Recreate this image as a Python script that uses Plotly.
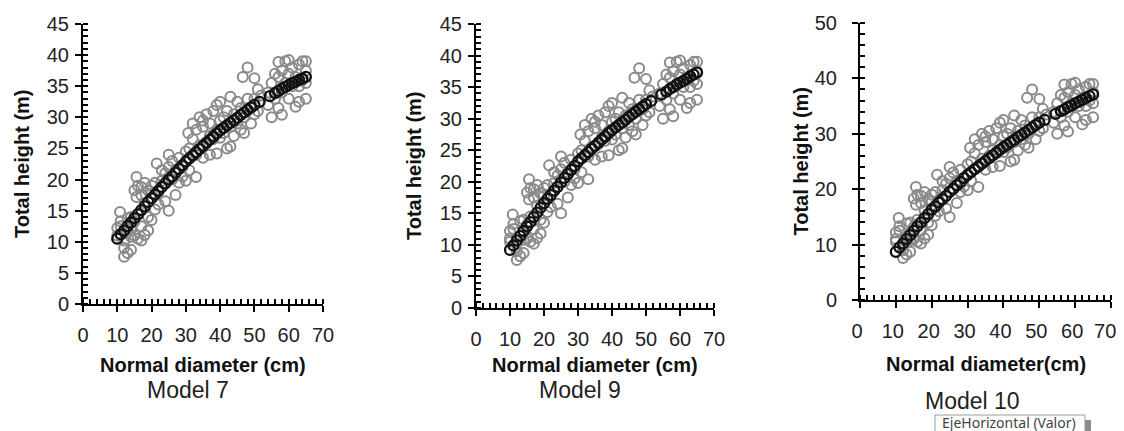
import plotly.graph_objects as go

# ---------------- data ----------------
obs_d = [10, 10, 10, 10.8, 11, 11, 12, 12, 12, 13, 13, 13, 14, 14, 14, 14,
         15, 15, 15, 15.6, 15.6, 16, 16, 16, 17, 17, 17, 17, 18, 18, 18,
         19, 19, 19, 20, 20, 20, 21, 21, 21.5, 22, 22, 23, 23, 24, 24,
         25, 25, 25, 26, 26, 27, 27, 28, 28, 29, 29, 30, 30, 30.7, 31, 31,
         32, 32, 33, 33, 33, 34, 34, 35, 35, 35, 36, 36, 37, 37, 37, 38, 38,
         39, 39, 39, 40, 40, 40, 41, 41, 42, 42, 43, 43, 43, 44, 44, 45, 45,
         46, 46, 46.6, 47, 47, 48, 48, 49, 49, 50, 50, 50, 51, 51, 52, 54, 54,
         55, 55, 56, 56, 57, 57, 57, 58, 58, 58, 59, 59, 60, 60, 60, 61, 61,
         62, 62, 63, 63, 63, 64, 64, 65, 65, 65, 65]
obs_h = [11.0, 12.2, 10.5, 14.8, 12.5, 13.3, 7.6, 10.2, 9.0, 8.2, 11.5, 13.8, 8.7, 12.0, 10.8, 14.0,
         18.3, 11.0, 13.2, 20.4, 17.2, 19.0, 10.5, 14.5, 17.5, 12.5, 18.8, 10.2, 19.5, 11.1, 16.2,
         18.2, 11.8, 14.0, 19.0, 13.5, 17.8, 15.2, 19.5, 22.6, 18.0, 16.0, 21.5, 19.8, 16.5, 21.0,
         24.0, 22.0, 15.0, 20.0, 23.0, 17.5, 21.5, 19.5, 23.5, 22.0, 20.5, 24.5, 19.8, 27.5, 25.0, 21.5,
         29.0, 26.5, 20.4, 28.0, 24.0, 30.0, 25.5, 28.5, 23.5, 29.5, 30.5, 26.0, 27.0, 29.0, 24.0, 26.5, 31.0,
         24.2, 28.0, 32.0, 32.5, 26.7, 29.5, 30.0, 27.5, 31.0, 25.0, 25.3, 33.3, 28.5, 30.5, 27.0, 29.0, 32.5,
         31.5, 28.0, 36.5, 30.0, 27.5, 38.0, 33.0, 29.0, 31.5, 36.3, 33.0, 30.5, 34.5, 31.0, 33.5, 34.0, 32.0,
         30.0, 35.5, 37.0, 33.0, 38.9, 36.5, 31.5, 30.4, 37.5, 34.0, 39.0, 35.5, 39.2, 33.0, 37.0, 38.0, 35.0,
         31.7, 36.5, 38.5, 32.5, 35.0, 36.0, 39.0, 39.0, 33.0, 35.5, 37.5]

fit_d = [10, 11, 12, 13, 14, 15, 16, 17, 18, 19, 20,
         21, 22, 23, 24, 25, 26, 27, 28, 29, 30,
         31, 32, 33, 34, 35, 36, 37, 38, 39, 40,
         41, 42, 43, 44, 45, 46, 47, 48, 49, 50,
         51.5, 54.5, 56, 57, 58, 59, 60, 61, 62, 63, 64, 65]
fit_m7 = [10.5, 11.2, 11.8, 12.5, 13.1, 13.8, 14.4, 15.1, 15.7, 16.4, 17.0,
          17.6, 18.2, 18.8, 19.4, 20.0, 20.5, 21.1, 21.7, 22.3, 22.9,
          23.4, 23.9, 24.4, 24.9, 25.4, 25.9, 26.4, 26.9, 27.4, 27.9,
          28.3, 28.7, 29.1, 29.5, 29.9, 30.4, 30.8, 31.2, 31.6, 32.0,
          32.5, 33.4, 33.9, 34.2, 34.6, 34.9, 35.2, 35.5, 35.7, 36.0, 36.2, 36.5]
fit_m9 = [9.2, 9.9, 10.7, 11.4, 12.2, 12.9, 13.6, 14.4, 15.1, 15.9, 16.6,
          17.3, 17.9, 18.6, 19.2, 19.9, 20.6, 21.2, 21.9, 22.5, 23.2,
          23.7, 24.2, 24.7, 25.2, 25.7, 26.2, 26.7, 27.2, 27.7, 28.2,
          28.6, 29.0, 29.4, 29.8, 30.3, 30.7, 31.1, 31.5, 31.9, 32.3,
          32.8, 33.8, 34.3, 34.7, 35.0, 35.4, 35.7, 36.0, 36.3, 36.7, 37.0, 37.3]
fit_m10 = [8.7, 9.5, 10.2, 11.0, 11.7, 12.5, 13.3, 14.0, 14.8, 15.5, 16.3,
           16.9, 17.6, 18.2, 18.8, 19.5, 20.1, 20.7, 21.3, 22.0, 22.6,
           23.1, 23.6, 24.1, 24.6, 25.1, 25.6, 26.1, 26.6, 27.1, 27.6,
           28.0, 28.5, 28.9, 29.4, 29.8, 30.2, 30.7, 31.1, 31.6, 32.0,
           32.5, 33.6, 34.1, 34.4, 34.8, 35.1, 35.5, 35.8, 36.1, 36.5, 36.8, 37.1]

model_names = ["Model 7", "Model 9", "Model 10"]
x_titles = ["Normal diameter (cm)", "Normal diameter (cm)", "Normal diameter(cm)"]
y_title = "Total height (m)"
y_max = [45, 45, 50]
y_dtick = [5, 5, 10]
y_minor = [1, 1, 2]
x_max = 70
x_tickvals = [0, 10, 20, 30, 40, 50, 60, 70]
x_ticktext = ["0", "10", "20", "30", "40", "50", "60", "70"]
x_minor = 2

# ---------------- layout geometry (window pixels) ----------------
OFF = 8                      # default page body margin in the browser
W, H = 1124 - OFF, 431 - OFF  # figure size so it fills the window exactly
px_x = [(83, 323), (476, 714), (860, 1111)]
px_y = [(24, 304), (24, 308), (23, 300)]
model_cx = [188, 580, 972]
model_cy = [390, 390, 401]
xt_cy = [365, 365, 364]
yt_cx = [22, 414, 800]


def fx(p):
    return (p - OFF) / W


def fy(p):
    return 1 - (p - OFF) / H


fits = [fit_m7, fit_m9, fit_m10]

fig = go.Figure()
tick_font = dict(family="Liberation Sans, Arial", size=20, color="#222222")

annotations = []
for i in range(3):
    xa = "x" if i == 0 else f"x{i+1}"
    ya = "y" if i == 0 else f"y{i+1}"
    fig.add_trace(go.Scatter(
        x=obs_d, y=obs_h, mode="markers", xaxis=xa, yaxis=ya, showlegend=False,
        marker=dict(symbol="circle-open", size=10, color="#8a8a8a", line=dict(width=2, color="#8a8a8a")),
        cliponaxis=False, hoverinfo="skip"))
    fig.add_trace(go.Scatter(
        x=fit_d, y=fits[i], mode="markers", xaxis=xa, yaxis=ya, showlegend=False,
        marker=dict(symbol="circle-open", size=10, color="#111111", line=dict(width=2.3, color="#111111")),
        cliponaxis=False, hoverinfo="skip"))

    x0, x1 = px_x[i]
    yt, yb = px_y[i]
    xdom = [fx(x0), fx(x1)]
    ydom = [fy(yb), fy(yt)]
    # in the last panel the labels sit slightly left of their ticks (last one kept inside the picture)
    ttext = list(x_ticktext)
    if i == 2:
        ttext[-1] = ttext[-1] + "\u00a0"
    axcommon = dict(showline=True, linewidth=2, linecolor="black", showgrid=False, zeroline=False,
                    ticks="outside", ticklen=6, tickwidth=2, tickcolor="black", automargin=False,
                    tickfont=tick_font, fixedrange=True, ticklabeloverflow="allow")
    fig.update_layout(**{
        ("xaxis" if i == 0 else f"xaxis{i+1}"): dict(
            domain=xdom, range=[0, x_max], tickmode="array", tickvals=x_tickvals, ticktext=ttext,
            anchor=ya, ticklabelstandoff=6, ticklabelshift=-3 if i == 2 else 0,
            minor=dict(ticks="inside", ticklen=5, tickwidth=1.5, tickcolor="black", dtick=x_minor, tick0=0),
            **axcommon),
        ("yaxis" if i == 0 else f"yaxis{i+1}"): dict(
            domain=ydom, range=[0, y_max[i]], dtick=y_dtick[i], tick0=0,
            anchor=xa, ticklabelstandoff=2 if i < 2 else 11,
            minor=dict(ticks="inside", ticklen=5, tickwidth=1.5, tickcolor="black", dtick=y_minor[i]),
            **axcommon),
    })
    annotations.append(dict(x=fx((x0 + x1) / 2), y=fy(xt_cy[i]), xref="paper", yref="paper",
                            text=f"<b>{x_titles[i]}</b>", showarrow=False, xanchor="center", yanchor="middle",
                            font=dict(family="Liberation Sans, Arial", size=20, color="#111111")))
    annotations.append(dict(x=fx(yt_cx[i]), y=fy((yt + yb) / 2), xref="paper", yref="paper",
                            text=f"<b>{y_title}</b>", showarrow=False, textangle=-90,
                            xanchor="center", yanchor="middle",
                            font=dict(family="Liberation Sans, Arial", size=20, color="#111111")))
    annotations.append(dict(x=fx(model_cx[i]), y=fy(model_cy[i]), xref="paper", yref="paper",
                            text=model_names[i], showarrow=False, xanchor="center", yanchor="middle",
                            font=dict(family="Liberation Sans, Arial", size=23, color="#222222")))

# tooltip-like label from the original screenshot (box, shadow, text)
fig.add_shape(type="rect", xref="paper", yref="paper", layer="above",
              x0=fx(1085), x1=fx(1091), y0=fy(440), y1=fy(420),
              fillcolor="#8c8c8c", line=dict(width=0))
fig.add_shape(type="rect", xref="paper", yref="paper", layer="above",
              x0=fx(935), x1=fx(1085), y0=fy(440), y1=fy(415),
              fillcolor="white", line=dict(width=1, color="#9a9a9a"))
annotations.append(dict(x=fx(1009), y=fy(422.5), xref="paper", yref="paper",
                        text="EjeHorizontal (Valor)", showarrow=False, xanchor="center", yanchor="middle",
                        font=dict(family="Noto Sans, Open Sans, Arial", size=14, color="#444444")))

fig.update_layout(
    template="none",
    width=W, height=H, margin=dict(l=0, r=0, t=0, b=0, pad=0, autoexpand=False),
    paper_bgcolor="white", plot_bgcolor="white",
    annotations=annotations, showlegend=False,
)

fig.write_html("out.html")
